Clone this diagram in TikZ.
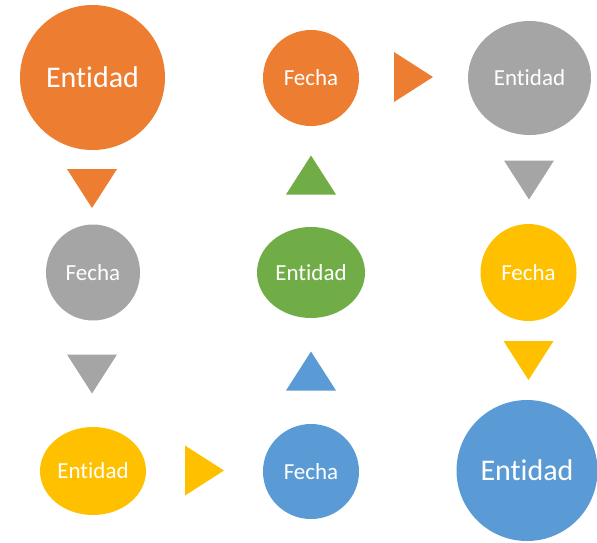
\documentclass[tikz,border=0pt]{standalone}
\usepackage{fontspec}
\setmainfont{Carlito}[Ligatures=NoCommon]
\usetikzlibrary{shapes.geometric}

\definecolor{naranja}{HTML}{ED7D31}
\definecolor{gris}{HTML}{A5A5A5}
\definecolor{amarillo}{HTML}{FFC000}
\definecolor{azul}{HTML}{5B9BD5}
\definecolor{verde}{HTML}{70AD47}

\tikzset{
  globo/.style={ellipse, inner sep=0pt, text=white,
    font=\fontsize{23}{27}\selectfont},
  grande/.style={font=\fontsize{30}{35}\selectfont},
  flecha/.pic={\fill (-25,-19.5) -- (25,-19.5) -- (0,19.5) -- cycle;}
}

\begin{document}
\begin{tikzpicture}[x=1pt, y=-1pt]
   \useasboundingbox (0,0) rectangle (597,542);
   % circulos
   \node[globo, grande, fill=naranja, minimum width=145pt, minimum height=145pt] (ent1) at (92.5,77.5) {Entidad};
   \node[globo, fill=naranja, minimum width=96pt, minimum height=96pt] (fec1) at (311,78) {Fecha};
   \node[globo, fill=gris, minimum width=123pt, minimum height=114pt] (ent2) at (529.5,78) {Entidad};
   \node[globo, fill=gris, minimum width=94pt, minimum height=96pt] (fec2) at (93,272.5) {Fecha};
   \node[globo, fill=verde, minimum width=108pt, minimum height=91pt] (ent3) at (311,272.5) {Entidad};
   \node[globo, fill=amarillo, minimum width=96pt, minimum height=97pt] (fec3) at (528.5,272.5) {Fecha};
   \node[globo, fill=amarillo, minimum width=106pt, minimum height=88pt] (ent4) at (93,471) {Entidad};
   \node[globo, fill=azul, minimum width=96pt, minimum height=95pt] (fec4) at (311,471.5) {Fecha};
   \node[globo, grande, fill=azul, minimum width=141pt, minimum height=141pt] (ent5) at (527,470.5) {Entidad};
   % triangulos
   \pic[naranja] at (92,188.5) {flecha};
   \pic[gris] at (92,374) {flecha};
   \pic[amarillo, rotate=90] at (204.5,470.5) {flecha};
   \pic[azul, rotate=180] at (311,371) {flecha};
   \pic[verde, rotate=180] at (311,175) {flecha};
   \pic[naranja, rotate=90] at (413.5,77) {flecha};
   \pic[gris] at (529,180) {flecha};
   \pic[amarillo] at (528.5,360.5) {flecha};
\end{tikzpicture}
\end{document}
